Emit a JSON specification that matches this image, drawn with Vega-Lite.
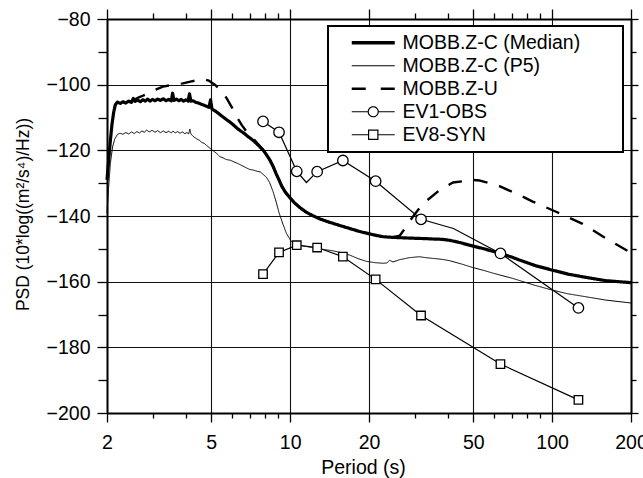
{
  "$schema": "https://vega.github.io/schema/vega-lite/v6.json",
  "width": 524,
  "height": 394,
  "autosize": {"type": "none"},
  "padding": {"left": 107, "top": 19, "right": 12, "bottom": 65},
  "background": "white",
  "config": {
    "font": "Liberation Sans",
    "view": {"stroke": null},
    "axis": {
      "labelFont": "Liberation Sans",
      "titleFont": "Liberation Sans",
      "labelColor": "black",
      "titleColor": "black",
      "tickColor": "black",
      "domainColor": "black",
      "tickWidth": 1.3,
      "labelFontSize": 19.5,
      "titleFontWeight": "normal",
      "labelFlush": false,
      "labelOverlap": false
    }
  },
  "datasets": {
    "spectra": [
      {"series": "MOBB.Z-U", "period": 2.5, "psd": -105.0},
      {"series": "MOBB.Z-U", "period": 2.62, "psd": -104.0},
      {"series": "MOBB.Z-U", "period": 2.7, "psd": -103.6},
      {"series": "MOBB.Z-U", "period": 2.79, "psd": -103.1},
      {"series": "MOBB.Z-U", "period": 3.0, "psd": -101.8},
      {"series": "MOBB.Z-U", "period": 3.27, "psd": -100.6},
      {"series": "MOBB.Z-U", "period": 3.57, "psd": -100.0},
      {"series": "MOBB.Z-U", "period": 3.9, "psd": -99.6},
      {"series": "MOBB.Z-U", "period": 4.2, "psd": -99.0},
      {"series": "MOBB.Z-U", "period": 4.45, "psd": -98.6},
      {"series": "MOBB.Z-U", "period": 4.64, "psd": -98.2},
      {"series": "MOBB.Z-U", "period": 4.9, "psd": -98.8},
      {"series": "MOBB.Z-U", "period": 5.16, "psd": -100.0},
      {"series": "MOBB.Z-U", "period": 5.45, "psd": -101.8},
      {"series": "MOBB.Z-U", "period": 5.72, "psd": -104.1},
      {"series": "MOBB.Z-U", "period": 6.0, "psd": -107.0},
      {"series": "MOBB.Z-U", "period": 6.24, "psd": -109.7},
      {"series": "MOBB.Z-U", "period": 6.55, "psd": -112.4},
      {"series": "MOBB.Z-U", "period": 6.89, "psd": -114.8},
      {"series": "MOBB.Z-U", "period": 7.3, "psd": -116.8},
      {"series": "MOBB.Z-U", "period": 7.7, "psd": -118.9},
      {"series": "MOBB.Z-U", "period": 7.9, "psd": -119.9},
      {"series": "MOBB.Z-U", "period": 8.1, "psd": -121.2},
      {"series": "MOBB.Z-U", "period": 8.36, "psd": -122.9},
      {"series": "MOBB.Z-U", "period": 8.6, "psd": -124.8},
      {"series": "MOBB.Z-U", "period": 8.85, "psd": -127.2},
      {"series": "MOBB.Z-U", "period": 9.07, "psd": -129.0},
      {"series": "MOBB.Z-U", "period": 9.3, "psd": -131.0},
      {"series": "MOBB.Z-U", "period": 9.6, "psd": -132.8},
      {"series": "MOBB.Z-U", "period": 9.97, "psd": -134.4},
      {"series": "MOBB.Z-U", "period": 10.4, "psd": -136.0},
      {"series": "MOBB.Z-U", "period": 10.88, "psd": -137.4},
      {"series": "MOBB.Z-U", "period": 11.5, "psd": -138.8},
      {"series": "MOBB.Z-U", "period": 12.2, "psd": -139.9},
      {"series": "MOBB.Z-U", "period": 13.0, "psd": -140.9},
      {"series": "MOBB.Z-U", "period": 14.0, "psd": -141.8},
      {"series": "MOBB.Z-U", "period": 15.2, "psd": -142.7},
      {"series": "MOBB.Z-U", "period": 16.87, "psd": -143.8},
      {"series": "MOBB.Z-U", "period": 18.2, "psd": -144.6},
      {"series": "MOBB.Z-U", "period": 19.5, "psd": -145.2},
      {"series": "MOBB.Z-U", "period": 21.0, "psd": -145.8},
      {"series": "MOBB.Z-U", "period": 22.6, "psd": -146.3},
      {"series": "MOBB.Z-U", "period": 24.5, "psd": -146.5},
      {"series": "MOBB.Z-U", "period": 26.2, "psd": -146.0},
      {"series": "MOBB.Z-U", "period": 27.7, "psd": -143.3},
      {"series": "MOBB.Z-U", "period": 29.4, "psd": -140.2},
      {"series": "MOBB.Z-U", "period": 32.1, "psd": -136.3},
      {"series": "MOBB.Z-U", "period": 37.2, "psd": -132.1},
      {"series": "MOBB.Z-U", "period": 41.8, "psd": -129.8},
      {"series": "MOBB.Z-U", "period": 49.8, "psd": -129.0},
      {"series": "MOBB.Z-U", "period": 53.0, "psd": -129.2},
      {"series": "MOBB.Z-U", "period": 62.9, "psd": -130.9},
      {"series": "MOBB.Z-U", "period": 75.0, "psd": -133.6},
      {"series": "MOBB.Z-U", "period": 84.3, "psd": -135.6},
      {"series": "MOBB.Z-U", "period": 103.5, "psd": -138.7},
      {"series": "MOBB.Z-U", "period": 130.7, "psd": -142.4},
      {"series": "MOBB.Z-U", "period": 160.5, "psd": -146.8},
      {"series": "MOBB.Z-U", "period": 200, "psd": -151.2},

      {"series": "MOBB.Z-C (P5)", "period": 2.0, "psd": -139.0},
      {"series": "MOBB.Z-C (P5)", "period": 2.03, "psd": -131.0},
      {"series": "MOBB.Z-C (P5)", "period": 2.06, "psd": -124.0},
      {"series": "MOBB.Z-C (P5)", "period": 2.1, "psd": -119.0},
      {"series": "MOBB.Z-C (P5)", "period": 2.14, "psd": -116.6},
      {"series": "MOBB.Z-C (P5)", "period": 2.19, "psd": -115.2},
      {"series": "MOBB.Z-C (P5)", "period": 2.24, "psd": -114.8},
      {"series": "MOBB.Z-C (P5)", "period": 2.3, "psd": -115.1},
      {"series": "MOBB.Z-C (P5)", "period": 2.36, "psd": -114.6},
      {"series": "MOBB.Z-C (P5)", "period": 2.42, "psd": -115.0},
      {"series": "MOBB.Z-C (P5)", "period": 2.48, "psd": -114.4},
      {"series": "MOBB.Z-C (P5)", "period": 2.54, "psd": -114.9},
      {"series": "MOBB.Z-C (P5)", "period": 2.6, "psd": -114.3},
      {"series": "MOBB.Z-C (P5)", "period": 2.66, "psd": -114.7},
      {"series": "MOBB.Z-C (P5)", "period": 2.72, "psd": -114.1},
      {"series": "MOBB.Z-C (P5)", "period": 2.78, "psd": -114.5},
      {"series": "MOBB.Z-C (P5)", "period": 2.83, "psd": -113.8},
      {"series": "MOBB.Z-C (P5)", "period": 2.9, "psd": -114.4},
      {"series": "MOBB.Z-C (P5)", "period": 2.97, "psd": -113.9},
      {"series": "MOBB.Z-C (P5)", "period": 3.05, "psd": -114.5},
      {"series": "MOBB.Z-C (P5)", "period": 3.12, "psd": -114.0},
      {"series": "MOBB.Z-C (P5)", "period": 3.2, "psd": -114.6},
      {"series": "MOBB.Z-C (P5)", "period": 3.28, "psd": -114.1},
      {"series": "MOBB.Z-C (P5)", "period": 3.36, "psd": -114.6},
      {"series": "MOBB.Z-C (P5)", "period": 3.44, "psd": -114.2},
      {"series": "MOBB.Z-C (P5)", "period": 3.52, "psd": -114.7},
      {"series": "MOBB.Z-C (P5)", "period": 3.57, "psd": -114.1},
      {"series": "MOBB.Z-C (P5)", "period": 3.64, "psd": -114.7},
      {"series": "MOBB.Z-C (P5)", "period": 3.72, "psd": -114.3},
      {"series": "MOBB.Z-C (P5)", "period": 3.8, "psd": -114.8},
      {"series": "MOBB.Z-C (P5)", "period": 3.88, "psd": -114.4},
      {"series": "MOBB.Z-C (P5)", "period": 3.96, "psd": -114.9},
      {"series": "MOBB.Z-C (P5)", "period": 4.04, "psd": -114.6},
      {"series": "MOBB.Z-C (P5)", "period": 4.1, "psd": -115.0},
      {"series": "MOBB.Z-C (P5)", "period": 4.14, "psd": -113.5},
      {"series": "MOBB.Z-C (P5)", "period": 4.18, "psd": -115.0},
      {"series": "MOBB.Z-C (P5)", "period": 4.27, "psd": -115.8},
      {"series": "MOBB.Z-C (P5)", "period": 4.4, "psd": -116.5},
      {"series": "MOBB.Z-C (P5)", "period": 4.5, "psd": -116.9},
      {"series": "MOBB.Z-C (P5)", "period": 4.6, "psd": -117.6},
      {"series": "MOBB.Z-C (P5)", "period": 4.7, "psd": -117.9},
      {"series": "MOBB.Z-C (P5)", "period": 4.8, "psd": -118.5},
      {"series": "MOBB.Z-C (P5)", "period": 4.95, "psd": -119.4},
      {"series": "MOBB.Z-C (P5)", "period": 5.1, "psd": -120.2},
      {"series": "MOBB.Z-C (P5)", "period": 5.25, "psd": -121.0},
      {"series": "MOBB.Z-C (P5)", "period": 5.39, "psd": -121.9},
      {"series": "MOBB.Z-C (P5)", "period": 5.55, "psd": -122.3},
      {"series": "MOBB.Z-C (P5)", "period": 5.7, "psd": -122.8},
      {"series": "MOBB.Z-C (P5)", "period": 5.9, "psd": -123.0},
      {"series": "MOBB.Z-C (P5)", "period": 6.06, "psd": -123.4},
      {"series": "MOBB.Z-C (P5)", "period": 6.3, "psd": -124.0},
      {"series": "MOBB.Z-C (P5)", "period": 6.5, "psd": -124.5},
      {"series": "MOBB.Z-C (P5)", "period": 6.75, "psd": -125.2},
      {"series": "MOBB.Z-C (P5)", "period": 7.0, "psd": -125.8},
      {"series": "MOBB.Z-C (P5)", "period": 7.22, "psd": -126.0},
      {"series": "MOBB.Z-C (P5)", "period": 7.5, "psd": -126.4},
      {"series": "MOBB.Z-C (P5)", "period": 7.7, "psd": -126.6},
      {"series": "MOBB.Z-C (P5)", "period": 7.88, "psd": -127.3},
      {"series": "MOBB.Z-C (P5)", "period": 8.12, "psd": -128.2},
      {"series": "MOBB.Z-C (P5)", "period": 8.35, "psd": -129.8},
      {"series": "MOBB.Z-C (P5)", "period": 8.61, "psd": -132.6},
      {"series": "MOBB.Z-C (P5)", "period": 8.85, "psd": -135.8},
      {"series": "MOBB.Z-C (P5)", "period": 9.07, "psd": -139.0},
      {"series": "MOBB.Z-C (P5)", "period": 9.4, "psd": -142.6},
      {"series": "MOBB.Z-C (P5)", "period": 9.68, "psd": -145.3},
      {"series": "MOBB.Z-C (P5)", "period": 10.0, "psd": -147.2},
      {"series": "MOBB.Z-C (P5)", "period": 10.26, "psd": -148.3},
      {"series": "MOBB.Z-C (P5)", "period": 10.8, "psd": -148.9},
      {"series": "MOBB.Z-C (P5)", "period": 11.54, "psd": -149.3},
      {"series": "MOBB.Z-C (P5)", "period": 12.5, "psd": -149.8},
      {"series": "MOBB.Z-C (P5)", "period": 13.5, "psd": -150.2},
      {"series": "MOBB.Z-C (P5)", "period": 14.57, "psd": -150.6},
      {"series": "MOBB.Z-C (P5)", "period": 15.7, "psd": -151.2},
      {"series": "MOBB.Z-C (P5)", "period": 16.87, "psd": -151.9},
      {"series": "MOBB.Z-C (P5)", "period": 18.2, "psd": -153.0},
      {"series": "MOBB.Z-C (P5)", "period": 19.53, "psd": -153.8},
      {"series": "MOBB.Z-C (P5)", "period": 21.0, "psd": -154.2},
      {"series": "MOBB.Z-C (P5)", "period": 22.6, "psd": -154.4},
      {"series": "MOBB.Z-C (P5)", "period": 23.4, "psd": -154.3},
      {"series": "MOBB.Z-C (P5)", "period": 24.0, "psd": -153.5},
      {"series": "MOBB.Z-C (P5)", "period": 24.7, "psd": -154.0},
      {"series": "MOBB.Z-C (P5)", "period": 26.2, "psd": -153.3},
      {"series": "MOBB.Z-C (P5)", "period": 28.5, "psd": -152.7},
      {"series": "MOBB.Z-C (P5)", "period": 31.1, "psd": -152.4},
      {"series": "MOBB.Z-C (P5)", "period": 33.0, "psd": -152.7},
      {"series": "MOBB.Z-C (P5)", "period": 35.0, "psd": -152.9},
      {"series": "MOBB.Z-C (P5)", "period": 38.0, "psd": -153.2},
      {"series": "MOBB.Z-C (P5)", "period": 40.6, "psd": -153.6},
      {"series": "MOBB.Z-C (P5)", "period": 45.0, "psd": -154.6},
      {"series": "MOBB.Z-C (P5)", "period": 49.8, "psd": -155.7},
      {"series": "MOBB.Z-C (P5)", "period": 55.0, "psd": -156.6},
      {"series": "MOBB.Z-C (P5)", "period": 60.0, "psd": -157.5},
      {"series": "MOBB.Z-C (P5)", "period": 70.7, "psd": -159.0},
      {"series": "MOBB.Z-C (P5)", "period": 85.0, "psd": -161.0},
      {"series": "MOBB.Z-C (P5)", "period": 100.4, "psd": -162.6},
      {"series": "MOBB.Z-C (P5)", "period": 115.0, "psd": -163.7},
      {"series": "MOBB.Z-C (P5)", "period": 134.6, "psd": -164.6},
      {"series": "MOBB.Z-C (P5)", "period": 160.0, "psd": -165.6},
      {"series": "MOBB.Z-C (P5)", "period": 200, "psd": -166.5},

      {"series": "MOBB.Z-C (Median)", "period": 2.0, "psd": -129.0},
      {"series": "MOBB.Z-C (Median)", "period": 2.03, "psd": -123.0},
      {"series": "MOBB.Z-C (Median)", "period": 2.06, "psd": -117.0},
      {"series": "MOBB.Z-C (Median)", "period": 2.09, "psd": -112.0},
      {"series": "MOBB.Z-C (Median)", "period": 2.12, "psd": -108.5},
      {"series": "MOBB.Z-C (Median)", "period": 2.15, "psd": -106.2},
      {"series": "MOBB.Z-C (Median)", "period": 2.19, "psd": -105.3},
      {"series": "MOBB.Z-C (Median)", "period": 2.25, "psd": -105.7},
      {"series": "MOBB.Z-C (Median)", "period": 2.3, "psd": -105.2},
      {"series": "MOBB.Z-C (Median)", "period": 2.36, "psd": -105.6},
      {"series": "MOBB.Z-C (Median)", "period": 2.42, "psd": -105.0},
      {"series": "MOBB.Z-C (Median)", "period": 2.48, "psd": -105.4},
      {"series": "MOBB.Z-C (Median)", "period": 2.52, "psd": -104.2},
      {"series": "MOBB.Z-C (Median)", "period": 2.56, "psd": -105.1},
      {"series": "MOBB.Z-C (Median)", "period": 2.62, "psd": -104.7},
      {"series": "MOBB.Z-C (Median)", "period": 2.68, "psd": -105.2},
      {"series": "MOBB.Z-C (Median)", "period": 2.74, "psd": -104.6},
      {"series": "MOBB.Z-C (Median)", "period": 2.8, "psd": -105.0},
      {"series": "MOBB.Z-C (Median)", "period": 2.86, "psd": -104.4},
      {"series": "MOBB.Z-C (Median)", "period": 2.92, "psd": -105.0},
      {"series": "MOBB.Z-C (Median)", "period": 2.98, "psd": -104.5},
      {"series": "MOBB.Z-C (Median)", "period": 3.05, "psd": -104.9},
      {"series": "MOBB.Z-C (Median)", "period": 3.12, "psd": -104.4},
      {"series": "MOBB.Z-C (Median)", "period": 3.2, "psd": -104.8},
      {"series": "MOBB.Z-C (Median)", "period": 3.28, "psd": -104.3},
      {"series": "MOBB.Z-C (Median)", "period": 3.36, "psd": -104.9},
      {"series": "MOBB.Z-C (Median)", "period": 3.44, "psd": -104.5},
      {"series": "MOBB.Z-C (Median)", "period": 3.52, "psd": -104.9},
      {"series": "MOBB.Z-C (Median)", "period": 3.56, "psd": -102.6},
      {"series": "MOBB.Z-C (Median)", "period": 3.6, "psd": -104.8},
      {"series": "MOBB.Z-C (Median)", "period": 3.68, "psd": -104.4},
      {"series": "MOBB.Z-C (Median)", "period": 3.76, "psd": -104.9},
      {"series": "MOBB.Z-C (Median)", "period": 3.84, "psd": -104.5},
      {"series": "MOBB.Z-C (Median)", "period": 3.92, "psd": -105.0},
      {"series": "MOBB.Z-C (Median)", "period": 4.0, "psd": -104.6},
      {"series": "MOBB.Z-C (Median)", "period": 4.08, "psd": -105.0},
      {"series": "MOBB.Z-C (Median)", "period": 4.13, "psd": -102.8},
      {"series": "MOBB.Z-C (Median)", "period": 4.18, "psd": -105.0},
      {"series": "MOBB.Z-C (Median)", "period": 4.26, "psd": -104.9},
      {"series": "MOBB.Z-C (Median)", "period": 4.34, "psd": -105.3},
      {"series": "MOBB.Z-C (Median)", "period": 4.42, "psd": -105.5},
      {"series": "MOBB.Z-C (Median)", "period": 4.5, "psd": -105.7},
      {"series": "MOBB.Z-C (Median)", "period": 4.6, "psd": -106.0},
      {"series": "MOBB.Z-C (Median)", "period": 4.7, "psd": -106.3},
      {"series": "MOBB.Z-C (Median)", "period": 4.8, "psd": -106.6},
      {"series": "MOBB.Z-C (Median)", "period": 4.9, "psd": -106.9},
      {"series": "MOBB.Z-C (Median)", "period": 4.97, "psd": -104.6},
      {"series": "MOBB.Z-C (Median)", "period": 5.03, "psd": -107.4},
      {"series": "MOBB.Z-C (Median)", "period": 5.15, "psd": -107.9},
      {"series": "MOBB.Z-C (Median)", "period": 5.3, "psd": -108.6},
      {"series": "MOBB.Z-C (Median)", "period": 5.45, "psd": -109.4},
      {"series": "MOBB.Z-C (Median)", "period": 5.6, "psd": -110.1},
      {"series": "MOBB.Z-C (Median)", "period": 5.75, "psd": -110.8},
      {"series": "MOBB.Z-C (Median)", "period": 5.9, "psd": -111.4},
      {"series": "MOBB.Z-C (Median)", "period": 6.06, "psd": -112.2},
      {"series": "MOBB.Z-C (Median)", "period": 6.3, "psd": -113.4},
      {"series": "MOBB.Z-C (Median)", "period": 6.5, "psd": -114.2},
      {"series": "MOBB.Z-C (Median)", "period": 6.7, "psd": -114.9},
      {"series": "MOBB.Z-C (Median)", "period": 6.9, "psd": -115.8},
      {"series": "MOBB.Z-C (Median)", "period": 7.1, "psd": -116.5},
      {"series": "MOBB.Z-C (Median)", "period": 7.3, "psd": -117.3},
      {"series": "MOBB.Z-C (Median)", "period": 7.5, "psd": -118.2},
      {"series": "MOBB.Z-C (Median)", "period": 7.7, "psd": -119.1},
      {"series": "MOBB.Z-C (Median)", "period": 7.9, "psd": -120.0},
      {"series": "MOBB.Z-C (Median)", "period": 8.1, "psd": -121.2},
      {"series": "MOBB.Z-C (Median)", "period": 8.36, "psd": -122.9},
      {"series": "MOBB.Z-C (Median)", "period": 8.6, "psd": -124.8},
      {"series": "MOBB.Z-C (Median)", "period": 8.85, "psd": -127.2},
      {"series": "MOBB.Z-C (Median)", "period": 9.07, "psd": -129.0},
      {"series": "MOBB.Z-C (Median)", "period": 9.3, "psd": -131.0},
      {"series": "MOBB.Z-C (Median)", "period": 9.6, "psd": -132.8},
      {"series": "MOBB.Z-C (Median)", "period": 9.97, "psd": -134.4},
      {"series": "MOBB.Z-C (Median)", "period": 10.4, "psd": -136.0},
      {"series": "MOBB.Z-C (Median)", "period": 10.88, "psd": -137.4},
      {"series": "MOBB.Z-C (Median)", "period": 11.5, "psd": -138.8},
      {"series": "MOBB.Z-C (Median)", "period": 12.2, "psd": -139.9},
      {"series": "MOBB.Z-C (Median)", "period": 13.0, "psd": -140.9},
      {"series": "MOBB.Z-C (Median)", "period": 14.0, "psd": -141.8},
      {"series": "MOBB.Z-C (Median)", "period": 15.2, "psd": -142.7},
      {"series": "MOBB.Z-C (Median)", "period": 16.87, "psd": -143.8},
      {"series": "MOBB.Z-C (Median)", "period": 18.2, "psd": -144.6},
      {"series": "MOBB.Z-C (Median)", "period": 19.5, "psd": -145.2},
      {"series": "MOBB.Z-C (Median)", "period": 21.0, "psd": -145.8},
      {"series": "MOBB.Z-C (Median)", "period": 22.6, "psd": -146.3},
      {"series": "MOBB.Z-C (Median)", "period": 24.5, "psd": -146.5},
      {"series": "MOBB.Z-C (Median)", "period": 26.2, "psd": -146.6},
      {"series": "MOBB.Z-C (Median)", "period": 28.0, "psd": -146.7},
      {"series": "MOBB.Z-C (Median)", "period": 30.3, "psd": -146.8},
      {"series": "MOBB.Z-C (Median)", "period": 33.0, "psd": -146.9},
      {"series": "MOBB.Z-C (Median)", "period": 35.0, "psd": -147.0},
      {"series": "MOBB.Z-C (Median)", "period": 38.0, "psd": -147.1},
      {"series": "MOBB.Z-C (Median)", "period": 40.6, "psd": -147.4},
      {"series": "MOBB.Z-C (Median)", "period": 44.0, "psd": -148.0},
      {"series": "MOBB.Z-C (Median)", "period": 48.4, "psd": -148.9},
      {"series": "MOBB.Z-C (Median)", "period": 55.0, "psd": -150.0},
      {"series": "MOBB.Z-C (Median)", "period": 63.5, "psd": -151.4},
      {"series": "MOBB.Z-C (Median)", "period": 70.0, "psd": -152.5},
      {"series": "MOBB.Z-C (Median)", "period": 75.0, "psd": -153.4},
      {"series": "MOBB.Z-C (Median)", "period": 87.0, "psd": -155.2},
      {"series": "MOBB.Z-C (Median)", "period": 100.4, "psd": -156.5},
      {"series": "MOBB.Z-C (Median)", "period": 115.0, "psd": -157.7},
      {"series": "MOBB.Z-C (Median)", "period": 134.6, "psd": -158.7},
      {"series": "MOBB.Z-C (Median)", "period": 160.5, "psd": -159.7},
      {"series": "MOBB.Z-C (Median)", "period": 200, "psd": -160.3}
    ],
    "events": [
      {"series": "EV1-OBS", "period": 7.88, "psd": -111.2, "marker": 1},
      {"series": "EV1-OBS", "period": 9.07, "psd": -114.5, "marker": 1},
      {"series": "EV1-OBS", "period": 10.6, "psd": -126.4, "marker": 1},
      {"series": "EV1-OBS", "period": 11.54, "psd": -129.8, "marker": 0},
      {"series": "EV1-OBS", "period": 12.68, "psd": -126.5, "marker": 1},
      {"series": "EV1-OBS", "period": 15.9, "psd": -123.1, "marker": 1},
      {"series": "EV1-OBS", "period": 21.2, "psd": -129.4, "marker": 1},
      {"series": "EV1-OBS", "period": 31.6, "psd": -141.0, "marker": 1},
      {"series": "EV1-OBS", "period": 42.0, "psd": -143.8, "marker": 0},
      {"series": "EV1-OBS", "period": 63.5, "psd": -151.4, "marker": 1},
      {"series": "EV1-OBS", "period": 126, "psd": -168.0, "marker": 1},
      {"series": "EV8-SYN", "period": 7.88, "psd": -157.7, "marker": 1},
      {"series": "EV8-SYN", "period": 9.07, "psd": -151.1, "marker": 1},
      {"series": "EV8-SYN", "period": 10.6, "psd": -148.9, "marker": 1},
      {"series": "EV8-SYN", "period": 12.68, "psd": -149.6, "marker": 1},
      {"series": "EV8-SYN", "period": 15.9, "psd": -152.4, "marker": 1},
      {"series": "EV8-SYN", "period": 21.2, "psd": -159.3, "marker": 1},
      {"series": "EV8-SYN", "period": 31.6, "psd": -170.3, "marker": 1},
      {"series": "EV8-SYN", "period": 63.5, "psd": -185.1, "marker": 1},
      {"series": "EV8-SYN", "period": 126, "psd": -196.0, "marker": 1}
    ]
  },
  "layer": [
    {
      "data": {"name": "spectra"},
      "mark": {"type": "line", "strokeJoin": "round"},
      "encoding": {
        "x": {
          "field": "period", "type": "quantitative",
          "scale": {"type": "log", "domain": [2, 200], "nice": false},
          "axis": {
            "orient": "bottom", "values": [2, 5, 10, 20, 50, 100, 200], "format": "d",
            "grid": true, "gridColor": "#111", "gridWidth": 1.1, "gridOpacity": 1,
            "domainWidth": 2, "tickSize": 9,
            "labelBaseline": "alphabetic", "labelPadding": 26,
            "title": "Period (s)", "titleFontSize": 19.5,
            "titleX": 256, "titleY": 60, "titleAlign": "center", "titleBaseline": "alphabetic"
          }
        },
        "y": {
          "field": "psd", "type": "quantitative",
          "scale": {"domain": [-200, -80], "nice": false, "zero": false},
          "axis": {
            "orient": "left", "values": [-200, -180, -160, -140, -120, -100, -80], "format": "d",
            "grid": true, "gridColor": "#111", "gridWidth": 1.1, "gridOpacity": 1,
            "domainWidth": 2, "tickSize": 10, "labelPadding": 7,
            "title": "PSD (10*log((m²/s⁴)/Hz))", "titleFontSize": 17.5,
            "titleAngle": -90, "titleX": -79, "titleY": 195, "titleAlign": "center", "titleBaseline": "alphabetic"
          }
        },
        "color": {
          "field": "series", "type": "nominal",
          "scale": {
            "domain": ["MOBB.Z-C (Median)", "MOBB.Z-C (P5)", "MOBB.Z-U", "EV1-OBS", "EV8-SYN"],
            "range": ["black", "black", "black", "black", "black"]
          },
          "legend": {
            "orient": "none", "legendX": 221, "legendY": 7, "title": null, "padding": 7,
            "labelFontSize": 19.5, "labelColor": "black", "labelFont": "Liberation Sans",
            "labelLimit": 600, "symbolSize": 100, "symbolOffset": 28.5, "labelOffset": 19.5,
            "rowPadding": 2,
            "labelExpr": "datum.label + '\u2800\u00a0\u2800'",
            "encode": {
              "legend": {"update": {"stroke": {"value": "black"}, "strokeWidth": {"value": 2}, "fill": {"value": "white"}}},
              "symbols": {"update": {
                "shape": {"signal": "datum.value === 'EV1-OBS' ? 'M-4.3,0L-1,0M1,0L4.3,0M-1,0A1,1,0,1,0,1,0A1,1,0,1,0,-1,0Z' : (datum.value === 'EV8-SYN' ? 'M-4.3,0L-0.93,0M0.93,0L4.3,0M-0.93,-0.93L0.93,-0.93L0.93,0.93L-0.93,0.93Z' : 'M-4.3,0L4.3,0')"},
                "strokeWidth": {"signal": "datum.value === 'MOBB.Z-C (Median)' ? 3.5 : (datum.value === 'MOBB.Z-U' ? 2.6 : 1.2)"},
                "strokeDash": {"signal": "datum.value === 'MOBB.Z-U' ? [14, 15] : [1, 0]"},
                "stroke": {"value": "black"},
                "fill": {"value": "white"},
                "fillOpacity": {"value": 1},
                "opacity": {"value": 1}
              }}
            }
          }
        },
        "strokeDash": {
          "field": "series", "type": "nominal",
          "scale": {"type": "ordinal", "domain": ["MOBB.Z-C (Median)", "MOBB.Z-C (P5)", "MOBB.Z-U"], "range": [[1, 0], [1, 0], [14, 12]]},
          "legend": null
        },
        "strokeWidth": {
          "field": "series", "type": "nominal",
          "scale": {"type": "ordinal", "domain": ["MOBB.Z-C (Median)", "MOBB.Z-C (P5)", "MOBB.Z-U"], "range": [3.2, 1, 2.4]},
          "legend": null
        }
      }
    },
    {
      "data": {"name": "events"},
      "mark": {"type": "line", "strokeWidth": 1.2},
      "encoding": {
        "x": {
          "field": "period", "type": "quantitative",
          "scale": {"type": "log", "domain": [2, 200], "nice": false},
          "axis": {
            "orient": "top", "values": [2, 5, 10, 20, 50, 100, 200], "labels": false,
            "grid": false, "domainWidth": 2, "tickSize": 10, "title": null
          }
        },
        "y": {
          "field": "psd", "type": "quantitative",
          "scale": {"domain": [-200, -80], "nice": false, "zero": false},
          "axis": {
            "orient": "right", "values": [-200, -180, -160, -140, -120, -100, -80], "labels": false,
            "grid": false, "domainWidth": 2, "tickSize": 7, "title": null
          }
        },
        "color": {
          "field": "series", "type": "nominal",
          "scale": {
            "domain": ["MOBB.Z-C (Median)", "MOBB.Z-C (P5)", "MOBB.Z-U", "EV1-OBS", "EV8-SYN"],
            "range": ["black", "black", "black", "black", "black"]
          }
        }
      }
    },
    {
      "data": {"name": "events"},
      "transform": [{"filter": "datum.series === 'EV1-OBS' && datum.marker === 1"}],
      "mark": {"type": "point", "shape": "circle", "size": 110, "filled": true, "fill": "white", "stroke": "black", "strokeWidth": 1.3, "opacity": 1},
      "encoding": {
        "x": {
          "field": "period", "type": "quantitative",
          "scale": {"type": "log", "domain": [2, 200], "nice": false},
          "axis": {
            "orient": "bottom", "values": [3, 4, 6, 7, 8, 9, 30, 40, 60, 70, 80, 90], "labels": false,
            "grid": false, "domain": false, "tickSize": 5, "title": null
          }
        },
        "y": {
          "field": "psd", "type": "quantitative",
          "scale": {"domain": [-200, -80], "nice": false, "zero": false},
          "axis": {
            "orient": "left", "values": [-190, -170, -150, -130, -110, -90], "labels": false,
            "grid": false, "domain": false, "tickSize": 9, "title": null
          }
        }
      }
    },
    {
      "data": {"name": "events"},
      "transform": [{"filter": "datum.series === 'EV8-SYN' && datum.marker === 1"}],
      "mark": {"type": "point", "shape": "square", "size": 72, "filled": true, "fill": "white", "stroke": "black", "strokeWidth": 1.3, "opacity": 1},
      "encoding": {
        "x": {
          "field": "period", "type": "quantitative",
          "scale": {"type": "log", "domain": [2, 200], "nice": false},
          "axis": {
            "orient": "top", "values": [3, 4, 6, 7, 8, 9, 30, 40, 60, 70, 80, 90], "labels": false,
            "grid": false, "domain": false, "tickSize": 6, "title": null
          }
        },
        "y": {
          "field": "psd", "type": "quantitative",
          "scale": {"domain": [-200, -80], "nice": false, "zero": false},
          "axis": {
            "orient": "right", "values": [-190, -170, -150, -130, -110, -90], "labels": false,
            "grid": false, "domain": false, "tickSize": 5, "title": null
          }
        }
      }
    }
  ],
  "resolve": {"axis": {"x": "independent", "y": "independent"}}
}
